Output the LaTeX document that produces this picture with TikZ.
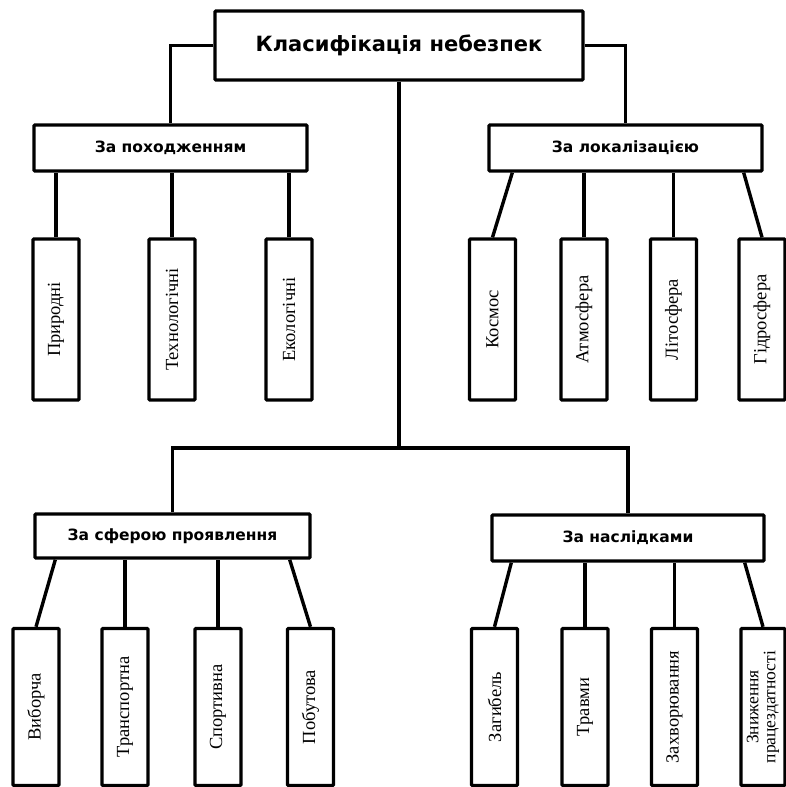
\documentclass[tikz,border=0pt]{standalone}
\usepackage{fontspec}
\setmainfont{Liberation Serif}
\newfontfamily\hdrfont{DejaVu Sans}
\usetikzlibrary{calc}
\begin{document}
\begin{tikzpicture}[x=1pt,y=-1pt,
  box/.style={draw,line width=3.4pt,rounded corners=1pt,inner sep=0pt,anchor=center},
  titlebox/.style={box,minimum width=368pt,minimum height=69pt,font=\hdrfont\bfseries\fontsize{21}{24}\selectfont},
  catbox/.style={box,minimum width=273pt,minimum height=46pt,font=\hdrfont\bfseries\fontsize{15.5}{18}\selectfont},
  leafbox/.style={box,minimum width=46pt,minimum height=161pt},
  leaflow/.style={box,minimum width=46pt,minimum height=157pt},
  leaftext/.style={rotate=90,font=\fontsize{18.5}{19}\selectfont,inner sep=0pt,align=center},
  conn/.style={line width=3.4pt}]
\useasboundingbox (0,0) rectangle (786,787);

% title
\node[titlebox] (top) at (399,45.5) {Класифікація небезпек};

% categories
\node[catbox] (L1) at (170.5,148) {За походженням};
\node[catbox] (R1) at (625.5,148) {За локалізацією};
\node[catbox,minimum width=275pt,minimum height=44pt] (L2) at (172.5,536) {За сферою проявлення};
\node[catbox,minimum width=272pt] (R2) at (628,538) {За наслідками};

% top leaves
\foreach \n/\x/\t in {a1/56/Природні, a2/172/Технологічні, a3/289/Екологічні,
                       b1/492.5/Космос, b2/584/Атмосфера, b3/673.5/Літосфера, b4/762/Гідросфера}{
  \node[leafbox] (\n) at (\x,319.5) {};
  \node[leaftext] at (\n.center) {\t};
}

% bottom leaves
\foreach \n/\x/\t in {c1/36/Виборча, c2/125/Транспортна, c3/218/Спортивна, c4/310.5/Побутова,
                       d1/494.5/Загибель, d2/585/Травми, d3/674.5/Захворювання}{
  \node[leaflow] (\n) at (\x,707) {};
  \node[leaftext] at (\n.center) {\t};
}
\node[leaflow,minimum width=44pt] (d4) at (763,707) {};
\node[leaftext,font=\fontsize{17.5}{17}\selectfont] at (d4.center) {Зниження\\працездатності};

% connectors from title
\coordinate (hub) at (top.south |- 0,448);
\draw[conn] (top.west) -| (L1.north);
\draw[conn] (top.east) -| (R1.north);
\draw[conn] (top.south) -- (hub);
\draw[conn] (L2.north) |- (hub) -| (R2.north);

% L1 children
\foreach \n in {a1,a2,a3}{ \draw[conn] (\n.north) -- (\n.north |- L1.south); }

% R1 children
\coordinate (r1a) at ($(R1.south west)+(25,0)$);
\coordinate (r1d) at ($(R1.south east)+(-20,0)$);
\draw[conn] (r1a) -- (b1.north);
\draw[conn] (b2.north) -- (b2.north |- R1.south);
\draw[conn] (b3.north) -- (b3.north |- R1.south);
\draw[conn] (r1d) -- (b4.north);

% L2 children
\coordinate (l2a) at ($(L2.south west)+(22,0)$);
\coordinate (l2d) at ($(L2.south east)+(-22,0)$);
\draw[conn] (l2a) -- (c1.north);
\draw[conn] (c2.north) -- (c2.north |- L2.south);
\draw[conn] (c3.north) -- (c3.north |- L2.south);
\draw[conn] (l2d) -- (c4.north);

% R2 children
\coordinate (r2a) at ($(R2.south west)+(21,0)$);
\coordinate (r2d) at ($(R2.south east)+(-21,0)$);
\draw[conn] (r2a) -- (d1.north);
\draw[conn] (d2.north) -- (d2.north |- R2.south);
\draw[conn] (d3.north) -- (d3.north |- R2.south);
\draw[conn] (r2d) -- (d4.north);
\end{tikzpicture}
\end{document}
